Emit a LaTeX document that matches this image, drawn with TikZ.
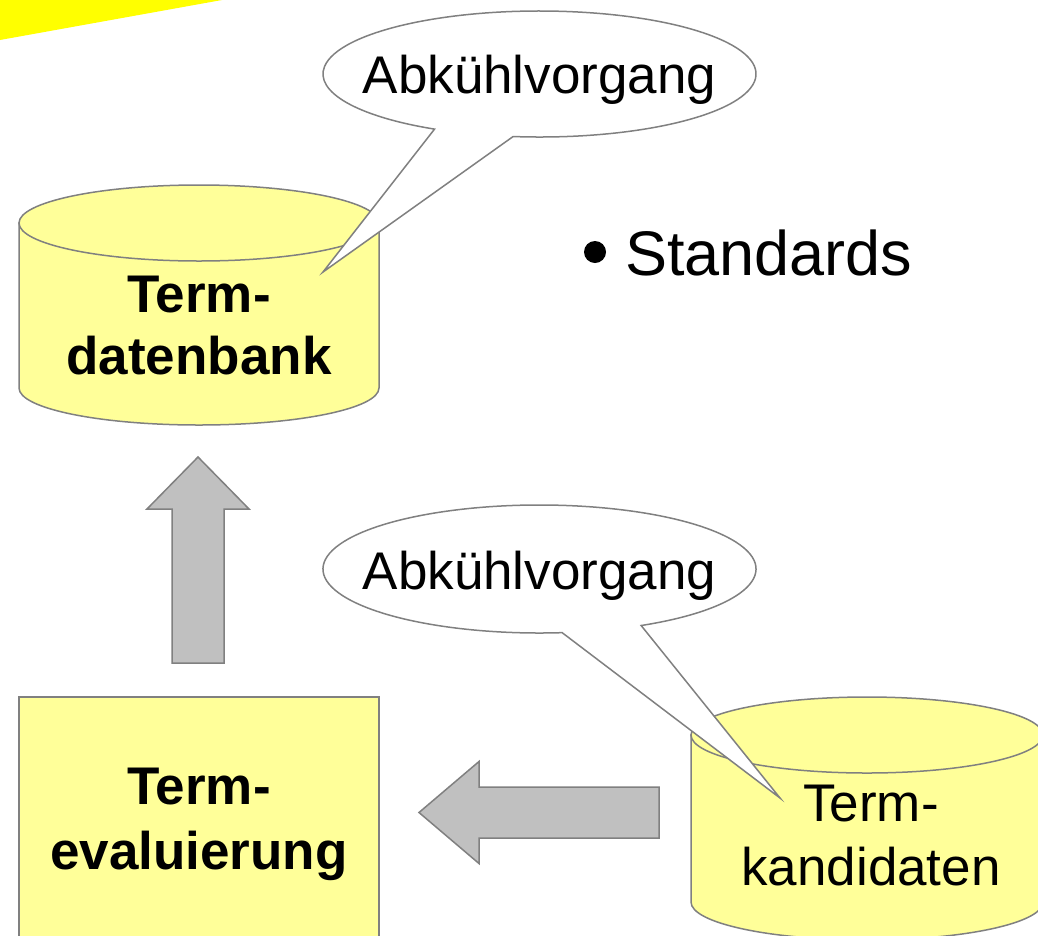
\documentclass[tikz,border=0pt]{standalone}
\usepackage{fontspec}
\setmainfont{Liberation Sans}
\usetikzlibrary{calc}
\definecolor{hiyellow}{HTML}{FFFF00}
\definecolor{paleyellow}{HTML}{FFFF99}
\definecolor{edgegray}{HTML}{808080}
\definecolor{arrowgray}{HTML}{C0C0C0}
\tikzset{
  outline/.style={draw=edgegray, line width=1.5pt, line join=miter},
  yellowbody/.style={outline, fill=paleyellow},
  blockarrow/.style={outline, fill=arrowgray},
  bubble/.style={outline, fill=white},
  boldlabel/.style={align=center, inner sep=0pt, font=\fontsize{53}{#1}\selectfont\bfseries},
  plainlabel/.style={align=center, inner sep=0pt, font=\fontsize{53}{#1}\selectfont},
  bubbletext/.style={inner sep=0pt, font=\fontsize{53}{62}\selectfont},
}
\begin{document}
\begin{tikzpicture}[x=1pt, y=-1pt]
\useasboundingbox (0,0) rectangle (1038,935);
\fill[white] (0,0) rectangle (1038,935);
% yellow corner
\fill[hiyellow] (0,0) -- (222,0) -- (0,40) -- cycle;

% Term-datenbank cylinder
\coordinate (dbtop) at (199,223);
\coordinate (dbbot) at (199,388);
\path[yellowbody] (19,223) -- (19,388) arc[start angle=180, end angle=360, x radius=180pt, y radius=37pt] -- (379,223) -- cycle;
\path[yellowbody] (dbtop) ellipse [x radius=180pt, y radius=38pt];
\node[boldlabel=62] (db) at (199,326) {Term-\\datenbank};

% Term-evaluierung box
\path[yellowbody] (19,697) rectangle (379,950);
\node[boldlabel=65] (ev) at (199,824.5) {Term-\\evaluierung};

% Term-kandidaten cylinder
\coordinate (kdtop) at (867,735);
\path[yellowbody] (691,735) -- (691,902) arc[start angle=180, end angle=360, x radius=176pt, y radius=38pt] -- (1043,735) -- cycle;
\path[yellowbody] (kdtop) ellipse [x radius=176pt, y radius=38pt];
\node[plainlabel=64] (kd) at (871,836) {Term-\\kandidaten};

% up block arrow (evaluierung -> datenbank)
\coordinate (upTail) at (198,663);
\coordinate (upTip) at (198,457);
\path[blockarrow] ($(upTail)+(-26,0)$) -- ($(upTip)+(-26,52)$) -- ($(upTip)+(-51,52)$) -- (upTip)
  -- ($(upTip)+(51,52)$) -- ($(upTip)+(26,52)$) -- ($(upTail)+(26,0)$) -- cycle;

% left block arrow (kandidaten -> evaluierung)
\coordinate (lfTail) at (659,812.5);
\coordinate (lfTip) at (419,812.5);
\path[blockarrow] ($(lfTail)+(0,-25.5)$) -- ($(lfTip)+(60,-25.5)$) -- ($(lfTip)+(60,-51)$) -- (lfTip)
  -- ($(lfTip)+(60,51)$) -- ($(lfTip)+(60,25.5)$) -- ($(lfTail)+(0,25.5)$) -- cycle;

% top callout
\coordinate (c1) at (539.5,74);
\coordinate (c1tip) at (323,272);
\path[bubble] ($(c1)+(263:216.5pt and 63pt)$) arc[start angle=263, end angle=601, x radius=216.5pt, y radius=63pt] -- (c1tip) -- cycle;
\node[bubbletext, anchor=base] (b1) at (539.5,93) {Abkühlvorgang};

% bottom callout
\coordinate (c2) at (539.5,569);
\coordinate (c2tip) at (780,798);
\path[bubble] ($(c2)+(298:216.5pt and 64pt)$) arc[start angle=298, end angle=636, x radius=216.5pt, y radius=64pt] -- (c2tip) -- cycle;
\node[bubbletext, anchor=base] (b2) at (539.5,589) {Abkühlvorgang};

% bullet
\fill (595,252) circle[radius=11pt];
\node[inner sep=0pt, anchor=base west, font=\fontsize{63}{70}\selectfont] (std) at (625,275) {Standards};
\end{tikzpicture}
\end{document}
